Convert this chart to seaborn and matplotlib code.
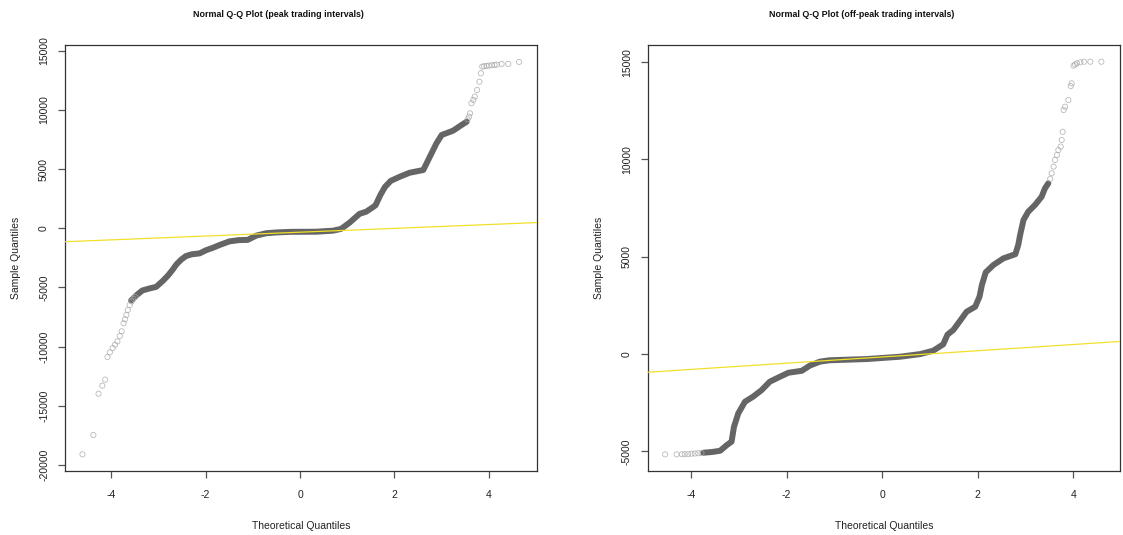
"""Normal Q-Q plots of price deviations, peak vs off-peak trading intervals."""
import matplotlib
matplotlib.use("Agg")
import matplotlib.pyplot as plt
import pandas as pd
import seaborn as sns

sns.set_style("white")
plt.rcParams["font.family"] = ["Liberation Sans", "DejaVu Sans"]

# ---- peak: dense body of the Q-Q curve (theoretical, sample) ----
peak_body_q = [-3.58, -3.45, -3.34, -3.19, -3.05, -2.91, -2.80, -2.70, -2.62, -2.52,
               -2.42, -2.30, -2.13, -1.99, -1.85, -1.71, -1.50, -1.30, -1.11, -0.93,
               -0.72, -0.50, -0.20, 0.34, 0.70, 0.87, 1.05, 1.26, 1.40, 1.55,
               1.60, 1.70, 1.80, 1.92, 2.11, 2.32, 2.61, 2.75, 2.89, 3.00,
               3.24, 3.42, 3.53]
peak_body_v = [-6100, -5600, -5250, -5080, -4950, -4450, -4000, -3500, -3050, -2650,
               -2350, -2200, -2120, -1850, -1650, -1420, -1110, -1000, -980, -620,
               -420, -350, -300, -290, -200, -50, 480, 1220, 1400, 1800,
               1950, 2800, 3500, 4000, 4350, 4690, 4920, 6050, 7180, 7880,
               8240, 8720, 9000]
# ---- peak: sparse tail points ----
peak_tail_q = [-4.61, -4.38, -4.27, -4.19, -4.13, -4.08, -4.03, -3.97, -3.92, -3.87,
               -3.82, -3.78, -3.74, -3.71, -3.68, -3.65, -3.61, -3.57, -3.53, -3.49,
               3.55, 3.58, 3.60, 3.63, 3.67, 3.70, 3.75, 3.80, 3.83, 3.86,
               3.90, 3.95, 4.00, 4.06, 4.12, 4.17, 4.27, 4.41, 4.64]
peak_tail_v = [-19090, -17460, -13970, -13290, -12780, -10870, -10480, -10110, -9830, -9550,
               -9100, -8700, -8020, -7690, -7320, -6900, -6480, -6170, -5950, -5800,
               9200, 9430, 9710, 10560, 10840, 11120, 11680, 12380, 13090, 13650,
               13690, 13710, 13740, 13770, 13800, 13820, 13880, 13880, 14050]
peak_line = (-330, 162)  # qqline intercept, slope

# ---- off-peak ----
off_body_q = [-3.74, -3.55, -3.39, -3.25, -3.15, -3.10, -3.01, -2.87, -2.70, -2.52,
              -2.35, -2.14, -1.96, -1.68, -1.51, -1.30, -1.10, -0.32, 0.38, 0.80,
              1.07, 1.28, 1.37, 1.49, 1.63, 1.77, 1.95, 2.04, 2.09, 2.17,
              2.33, 2.54, 2.79, 2.85, 2.89, 2.96, 3.06, 3.20, 3.34, 3.41, 3.48]
off_body_v = [-5070, -5030, -4970, -4680, -4500, -3740, -3050, -2450, -2190, -1850,
              -1420, -1170, -960, -860, -590, -390, -320, -257, -137, 0,
              171, 500, 1000, 1233, 1700, 2175, 2432, 2950, 3550, 4200,
              4574, 4916, 5130, 5600, 6115, 6886, 7314, 7657, 8084, 8515, 8772]
off_tail_q = [-4.54, -4.30, -4.19, -4.13, -4.06, -3.99, -3.92, -3.85, -3.78,
              3.52, 3.55, 3.59, 3.62, 3.66, 3.69, 3.74, 3.76, 3.78, 3.80,
              3.83, 3.90, 3.95, 3.97, 4.01, 4.04, 4.08, 4.15, 4.23, 4.36, 4.59]
off_tail_v = [-5154, -5154, -5150, -5145, -5140, -5120, -5110, -5100, -5085,
              9000, 9290, 9630, 9970, 10230, 10480, 10660, 11000, 11420, 12540,
              12710, 13050, 13770, 13910, 14820, 14880, 14940, 14990, 15020, 15020, 15020]
off_line = (-150, 160)

x_ticks = [-4, -2, 0, 2, 4]
peak_yticks = [-20000, -15000, -10000, -5000, 0, 5000, 10000, 15000]
off_yticks = [-5000, 0, 5000, 10000, 15000]

panels = [
    dict(title="Normal Q-Q Plot (peak trading intervals)",
         bq=peak_body_q, bv=peak_body_v, tq=peak_tail_q, tv=peak_tail_v,
         line=peak_line, yticks=peak_yticks, xlim=(-4.98, 5.02), ylim=(-20500, 15480),
         rect=[0.0579, 0.1196, 0.4203, 0.7963]),
    dict(title="Normal Q-Q Plot (off-peak trading intervals)",
         bq=off_body_q, bv=off_body_v, tq=off_tail_q, tv=off_tail_v,
         line=off_line, yticks=off_yticks, xlim=(-4.9, 4.98), ylim=(-6010, 15880),
         rect=[0.577, 0.1196, 0.4203, 0.7963]),
]

fig = plt.figure(figsize=(11.23, 5.35), dpi=100)
for p in panels:
    ax = fig.add_axes(p["rect"])
    body = pd.DataFrame({"q": p["bq"], "v": p["bv"]})
    tail = pd.DataFrame({"q": p["tq"], "v": p["tv"]})
    sns.lineplot(data=body, x="q", y="v", sort=False, ax=ax, color="#656565",
                 linewidth=4.3, solid_capstyle="round", zorder=2)
    sns.scatterplot(data=tail, x="q", y="v", ax=ax, marker="o", s=14,
                    facecolor="none", edgecolor="#a8a8a8", linewidth=0.6,
                    alpha=0.8, zorder=3)
    a, b = p["line"]
    ax.axline((0, a), slope=b, color="#f3df2a", linewidth=0.9, zorder=4)

    ax.set_xlim(*p["xlim"])
    ax.set_ylim(*p["ylim"])
    ax.set_xticks(x_ticks)
    ax.set_yticks(p["yticks"])
    ax.set_xticklabels([str(t) for t in x_ticks])
    ax.set_yticklabels([str(t) for t in p["yticks"]], rotation=90, va="center")
    ax.tick_params(axis="both", direction="out", length=5, width=0.9,
                   bottom=True, left=True,
                   color="#555555", labelsize=7.5, labelcolor="#222222")
    ax.tick_params(axis="x", pad=9)
    ax.tick_params(axis="y", pad=6.5)
    for s in ax.spines.values():
        s.set_color("#333333")
        s.set_linewidth(0.9)
    ax.set_xlabel("Theoretical Quantiles", fontsize=7.5, labelpad=15, color="#222222")
    ax.set_ylabel("Sample Quantiles", fontsize=7.5, labelpad=13, color="#222222")
    ax.set_title(p["title"], fontsize=6.4, fontweight="bold", pad=20, color="#111111",
                 x=0.452)

fig.savefig("out.png", dpi=100)
